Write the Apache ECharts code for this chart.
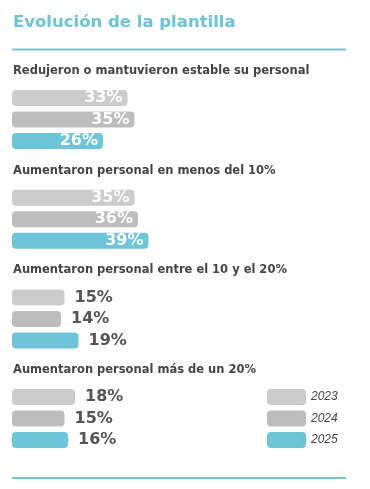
<!DOCTYPE html>
<html>
<head>
<meta charset="utf-8">
<script src="https://cdn.jsdelivr.net/npm/echarts@6/dist/echarts.min.js"></script>
<style>html,body{margin:0;padding:0;background:#fff}#c{width:370px;height:489px}</style>
</head>
<body>
<div id="c"></div>
<script>
const mainTitle = 'Evolución de la plantilla';
const categories = [
  'Redujeron o mantuvieron estable su personal',
  'Aumentaron personal en menos del 10%',
  'Aumentaron personal entre el 10 y el 20%',
  'Aumentaron personal más de un 20%'
];
const years = ['2023', '2024', '2025'];
const values2023 = [33, 35, 15, 18];
const values2024 = [35, 36, 14, 15];
const values2025 = [26, 39, 19, 16];

const seriesValues = [values2023, values2024, values2025];
const colors = ['#cccccc', '#bdbdbd', '#6cc5d9'];
const labelFont = 'DejaVu Sans';
const insideThreshold = 22;

const groupStep = 99.7;
const firstCenter = 98;
const band = 21.5;
const scale = 3.5; // px per percent
const xMax = 100;

const grids = [], xAxes = [], yAxes = [], series = [], titles = [];
titles.push({
  text: mainTitle, left: 13, top: 13, padding: 0,
  textStyle: { color: '#6cc4d6', fontFamily: 'DejaVu Sans', fontWeight: 'bold', fontSize: 16.5, lineHeight: 20 }
});
categories.forEach((cat, g) => {
  const c0 = firstCenter + groupStep * g;
  titles.push({
    text: cat, left: 13, top: c0 - 27 - 7, padding: 0,
    textStyle: { color: '#444', fontFamily: 'DejaVu Sans', fontWeight: 'bold', fontSize: 11.5, lineHeight: 14 }
  });
  grids.push({ left: 12, top: c0 - band / 2, width: xMax * scale, height: band * 3 });
  xAxes.push({ type: 'value', gridIndex: g, min: 0, max: xMax, show: false });
  yAxes.push({ type: 'category', gridIndex: g, data: years, inverse: true, show: false });
  years.forEach((y, k) => {
    const v = seriesValues[k][g];
    const inside = v >= insideThreshold;
    series.push({
      type: 'bar', name: y, xAxisIndex: g, yAxisIndex: g, stack: 'g' + g,
      barWidth: 16,
      itemStyle: { color: colors[k], borderRadius: 4 },
      data: years.map((_, i) => i === k ? {
        value: v,
        label: {
          show: true,
          position: inside ? 'insideRight' : 'right',
          distance: inside ? 5 : 10,
          color: inside ? '#ffffff' : '#555555',
          fontFamily: labelFont, fontWeight: 'bold', fontSize: 16,
          formatter: '{c}%'
        }
      } : '-'),
      animation: false
    });
  });
});

const chart = echarts.init(document.getElementById('c'));
chart.setOption({
  animation: false,
  title: titles,
  grid: grids,
  xAxis: xAxes,
  yAxis: yAxes,
  legend: {
    data: years, orient: 'vertical', left: 267, top: 389, padding: 0,
    itemWidth: 39, itemHeight: 16, itemGap: 5.5, itemTextGap: 6,
    icon: 'roundRect',
    textStyle: { color: '#444', fontFamily: 'Liberation Sans', fontStyle: 'italic', fontSize: 12 },
    selectedMode: false
  },
  graphic: [
    { type: 'line', shape: { x1: 12, y1: 49.5, x2: 346, y2: 49.5 }, style: { stroke: '#7cc3cf', lineWidth: 2 } },
    { type: 'line', shape: { x1: 12, y1: 478, x2: 346, y2: 478 }, style: { stroke: '#7cc3cf', lineWidth: 2 } }
  ],
  series: series
});
</script>
</body>
</html>
